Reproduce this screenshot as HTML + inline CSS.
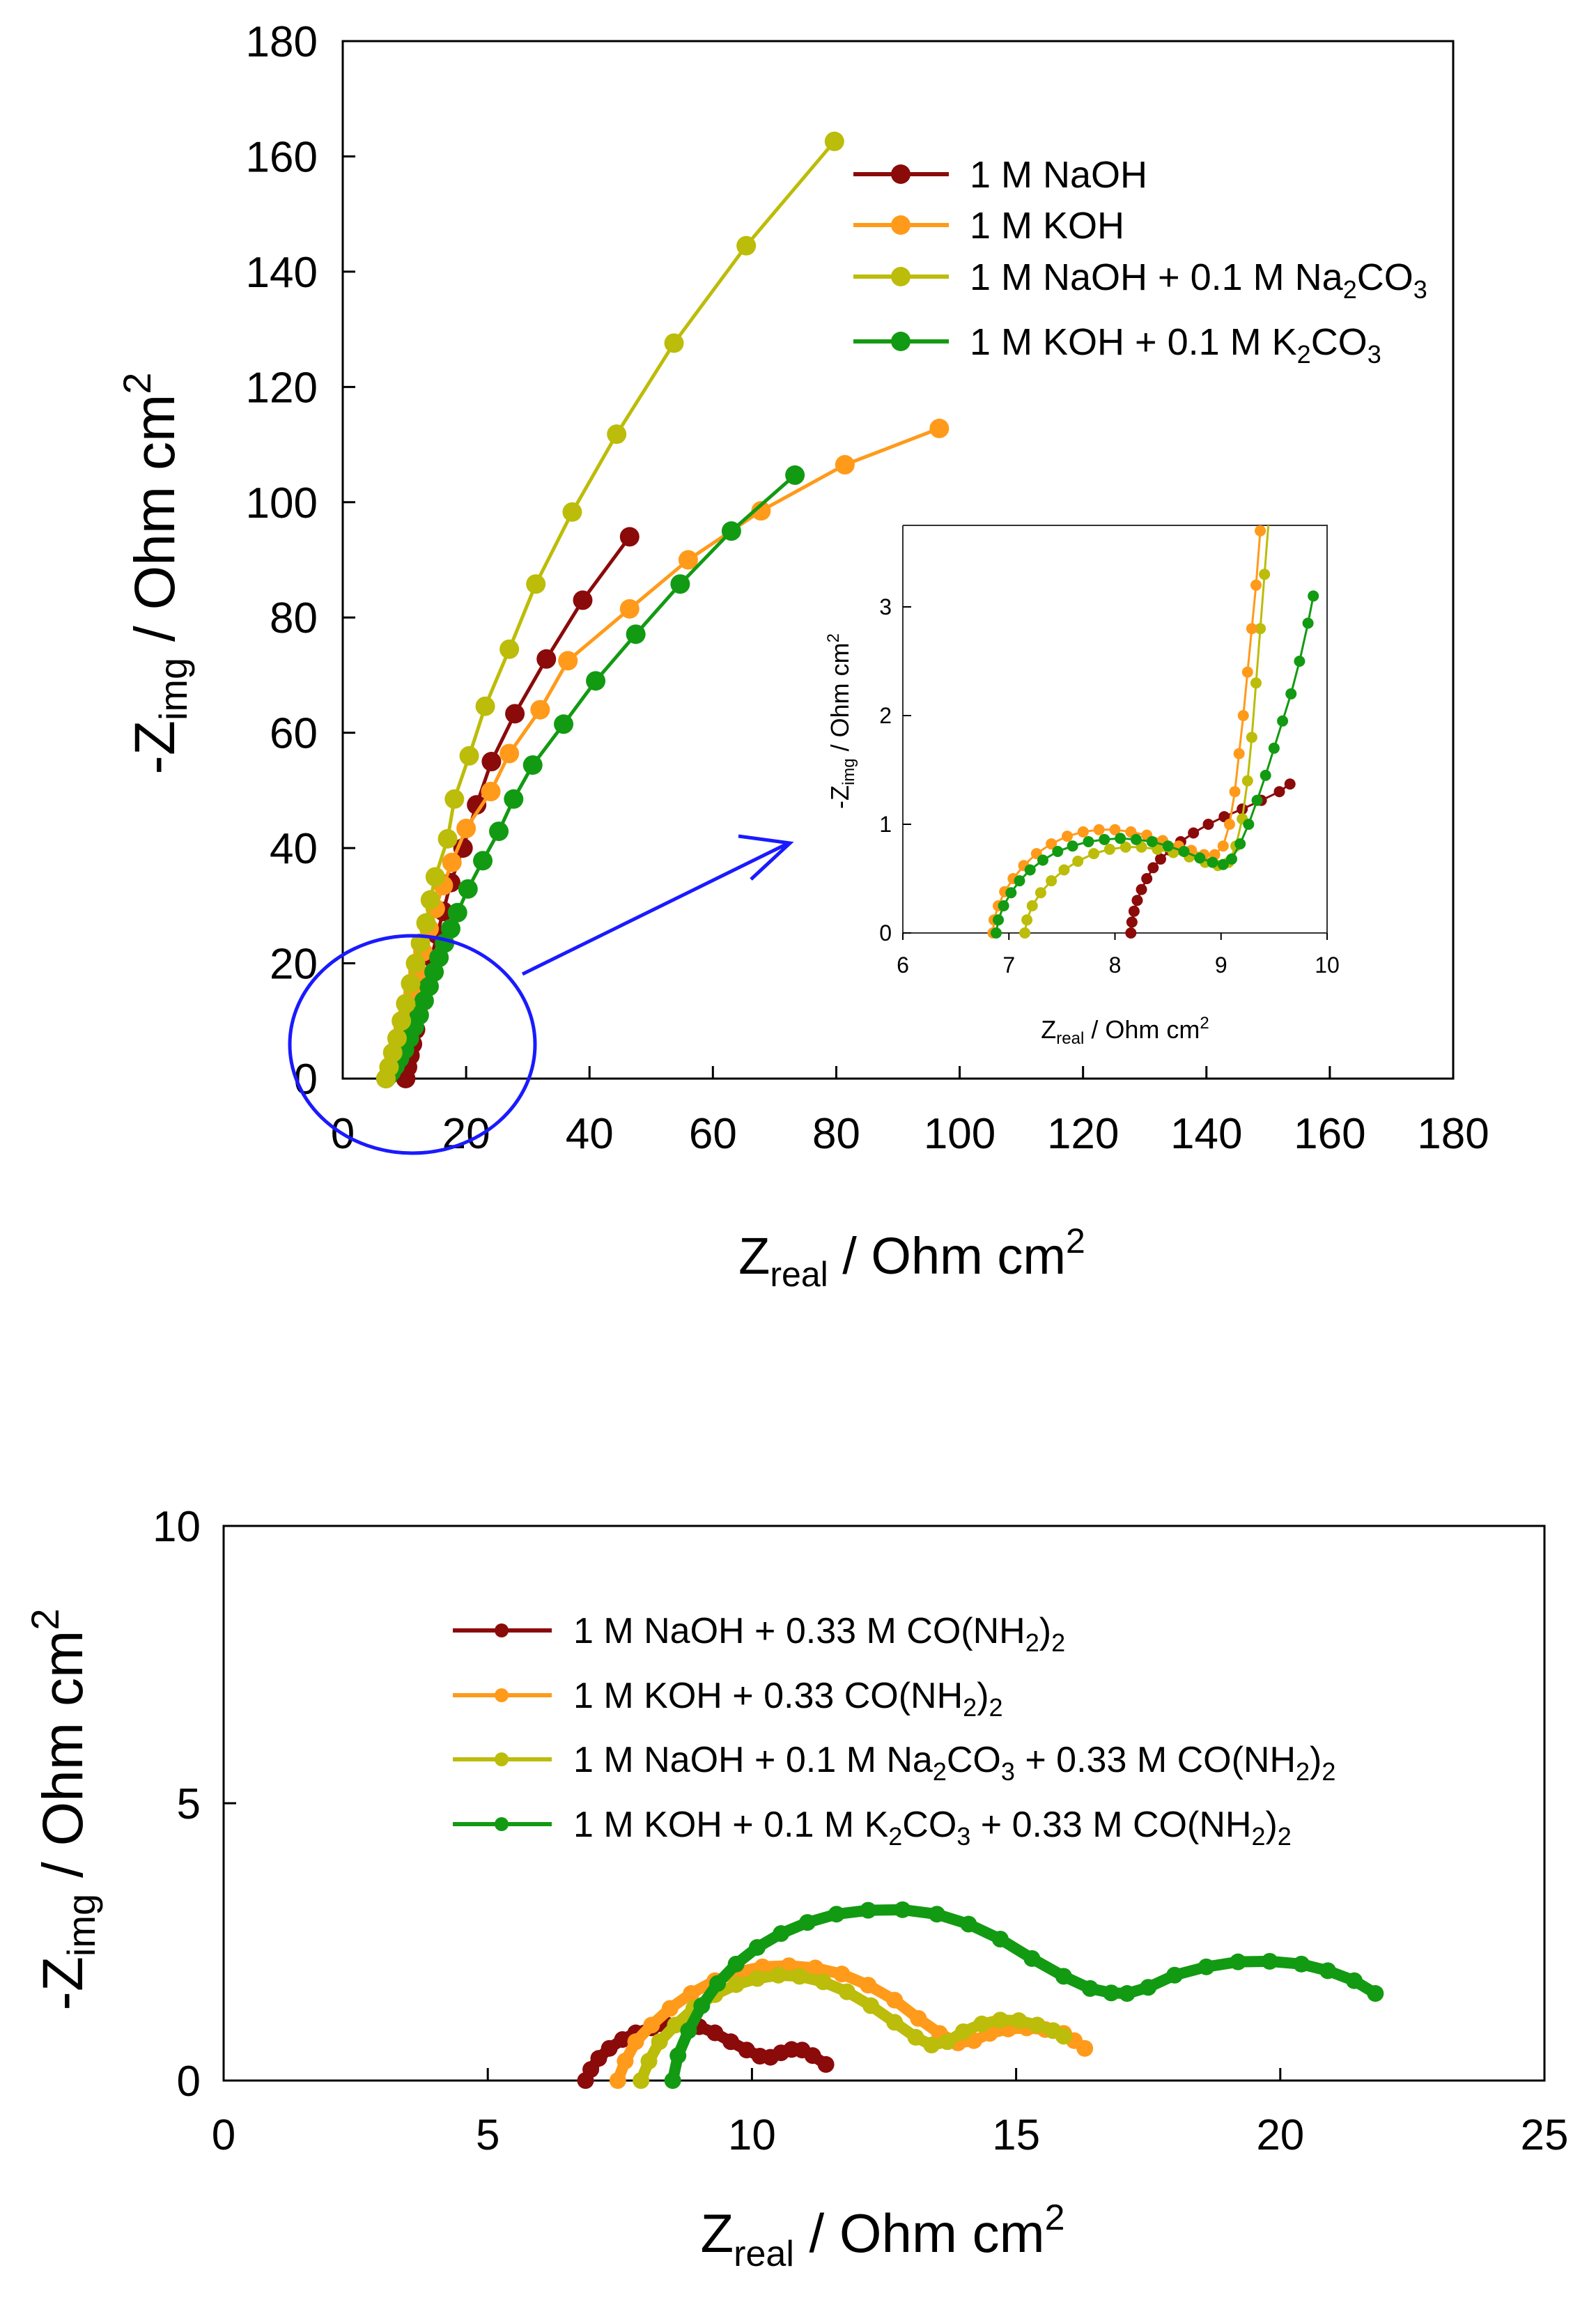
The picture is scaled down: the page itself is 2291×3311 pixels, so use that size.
<!DOCTYPE html>
<html><head><meta charset="utf-8"><style>
html,body{margin:0;padding:0;background:#fff}
svg{display:block}
text{font-family:"Liberation Sans",sans-serif;fill:#000}
</style></head><body>
<svg id="s" width="2291" height="3311" viewBox="0 0 2291 3311" xmlns="http://www.w3.org/2000/svg">
<rect x="0" y="0" width="2291" height="3311" fill="#fff"/>
<g id="top"></g>
<g id="inset"></g>
<g id="bot"></g>
</svg>
<script>
// ---------- TOP CHART DATA ----------
const topXTicks=[0,20,40,60,80,100,120,140,160,180];
const topYTicks=[0,20,40,60,80,100,120,140,160,180];
const naohX=[10.2,10.5,10.9,11.3,11.8,12.3,12.9,13.6,14.4,15.3,16.3,17.5,19.5,21.7,24.1,27.9,33,38.9,46.5];
const naohY=[0,2,4,6,8.5,11,14,17.5,21,25,29,34,40,47.5,55,63.3,72.8,83,94];
const kohX=[7,7.6,8.3,9,9.8,10.6,11.4,12.2,13,14,15,16.3,17.7,20,24,27,32,36.5,46.5,56,67.8,81.4,96.7];
const kohY=[0,1.5,3.5,6,9,12,15,18.5,22,26,29.5,33.5,37.5,43.4,49.8,56.4,64,72.5,81.5,90,98.5,106.5,112.8];
const naohCarbX=[7,7.5,8.1,8.8,9.5,10.2,11,11.8,12.6,13.5,14.2,15,17,18.1,20.5,23.1,27,31.3,37.2,44.4,53.7,65.4,79.7];
const naohCarbY=[0,2,4.5,7,10,13,16.5,20,23.5,27,31,35,41.6,48.5,56,64.6,74.5,85.8,98.3,111.8,127.6,144.5,162.6];
const kohCarbX=[7,7.4,7.9,8.5,9.2,10,10.8,11.6,12.4,13.2,14,14.8,15.6,16.5,17.5,18.6,20.3,22.7,25.3,27.7,30.8,35.8,41,47.5,54.7,63,73.3];
const kohCarbY=[0,0.5,1.2,2.2,3.5,5,7,9,11,13.5,16,18.5,21,23.5,26,28.8,32.9,37.8,42.9,48.5,54.4,61.5,69,77.1,85.8,95,104.7];
// ---------- INSET DATA ----------
const insXTicks=[6,7,8,9,10];
const insYTicks=[0,1,2,3];
const insKohX=[6.85,6.86,6.9,6.96,7.04,7.14,7.26,7.4,7.55,7.7,7.85,8.0,8.15,8.3,8.45,8.6,8.72,8.84,8.94,9.02,9.08,9.13,9.17,9.21,9.25,9.29,9.33,9.37];
const insKohY=[0,0.12,0.25,0.38,0.5,0.62,0.73,0.82,0.89,0.93,0.95,0.95,0.93,0.9,0.85,0.8,0.76,0.72,0.72,0.8,1.0,1.3,1.65,2.0,2.4,2.8,3.2,3.7];
const insKohCarbX=[6.88,6.9,6.95,7.02,7.1,7.2,7.32,7.46,7.6,7.75,7.9,8.05,8.2,8.35,8.5,8.65,8.8,8.92,9.02,9.1,9.18,9.26,9.34,9.42,9.5,9.58,9.66,9.74,9.82,9.87];
const insKohCarbY=[0,0.12,0.25,0.37,0.48,0.58,0.67,0.75,0.8,0.84,0.86,0.87,0.86,0.84,0.8,0.75,0.69,0.65,0.63,0.68,0.82,1.0,1.22,1.45,1.7,1.95,2.2,2.5,2.85,3.1];
const insNaohCarbX=[7.15,7.17,7.22,7.3,7.4,7.52,7.65,7.8,7.95,8.1,8.25,8.4,8.55,8.7,8.85,8.97,9.07,9.14,9.2,9.25,9.29,9.33,9.37,9.41,9.45];
const insNaohCarbY=[0,0.12,0.25,0.37,0.48,0.58,0.66,0.73,0.77,0.79,0.79,0.77,0.74,0.7,0.65,0.62,0.65,0.8,1.05,1.4,1.8,2.3,2.8,3.3,3.8];
const insNaohX=[8.15,8.16,8.18,8.21,8.25,8.3,8.36,8.43,8.52,8.62,8.74,8.88,9.03,9.2,9.38,9.55,9.65];
const insNaohY=[0,0.1,0.2,0.3,0.4,0.5,0.6,0.68,0.76,0.84,0.92,1.0,1.07,1.14,1.22,1.3,1.37];
// ---------- BOTTOM CHART DATA ----------
const botXTicks=[0,5,10,15,20,25];
const botYTicks=[0,5,10];
const bNaohX=[6.85,6.95,7.1,7.3,7.55,7.8,8.1,8.4,8.7,9.0,9.3,9.6,9.9,10.15,10.35,10.55,10.75,10.95,11.15,11.4];
const bNaohY=[0,0.2,0.4,0.58,0.74,0.86,0.95,1.0,1.02,0.97,0.86,0.7,0.55,0.44,0.42,0.5,0.56,0.55,0.45,0.29];
const bKohX=[7.46,7.6,7.8,8.1,8.45,8.85,9.3,9.75,10.2,10.7,11.2,11.7,12.2,12.7,13.15,13.55,13.9,14.2,14.5,14.85,15.2,15.55,15.9,16.1,16.3];
const bKohY=[0,0.35,0.7,1.0,1.3,1.57,1.8,1.96,2.05,2.07,2.03,1.92,1.72,1.45,1.12,0.85,0.68,0.72,0.85,0.93,0.95,0.92,0.85,0.72,0.58];
const bNaohCarbX=[7.9,8.05,8.25,8.55,8.9,9.3,9.7,10.1,10.5,10.9,11.35,11.8,12.25,12.7,13.1,13.4,13.7,14.0,14.35,14.7,15.05,15.4,15.7,15.9];
const bNaohCarbY=[0,0.35,0.7,1.0,1.3,1.55,1.73,1.84,1.9,1.88,1.78,1.6,1.35,1.05,0.78,0.64,0.7,0.88,1.02,1.09,1.08,1.0,0.9,0.8];
const bKohCarbX=[8.5,8.6,8.8,9.05,9.35,9.7,10.1,10.55,11.05,11.6,12.2,12.85,13.5,14.1,14.7,15.3,15.9,16.4,16.8,17.1,17.5,18.0,18.6,19.2,19.8,20.4,20.9,21.4,21.8];
const bKohCarbY=[0,0.45,0.9,1.35,1.75,2.1,2.4,2.65,2.85,3.0,3.07,3.08,3.0,2.82,2.55,2.2,1.88,1.66,1.58,1.57,1.68,1.9,2.05,2.14,2.15,2.1,1.98,1.8,1.57];

const C_RED="#8b0a0a",C_OR="#ff9a1a",C_OL="#bcbc0a",C_GR="#129a12";
const NS="http://www.w3.org/2000/svg";
function mk(parent,tag,attrs,txt){const e=document.createElementNS(NS,tag);for(const k in attrs)e.setAttribute(k,attrs[k]);if(txt!==undefined)e.textContent=txt;parent.appendChild(e);return e;}
function series(g,xs,ys,sx,sy,color,lw,r,name){
  const s=mk(g,'g',{});
  
  
  const pts=xs.map((x,i)=>sx(x)+','+sy(ys[i])).join(' ');
  mk(s,'polyline',{points:pts,fill:'none',stroke:color,'stroke-width':lw,'stroke-linejoin':'round','stroke-linecap':'round'});
  xs.forEach((x,i)=>{const c=mk(s,'circle',{cx:sx(x),cy:sy(ys[i]),r:r,fill:color});
    
    });
}
// ---------- TOP ----------
(function(){
const g=document.getElementById('top');
const L=492,R=2086,T=59,B=1548;
const sx=v=>L+(v-0)/180*(R-L), sy=v=>B-(v-0)/180*(B-T);
mk(g,'rect',{x:L,y:T,width:R-L,height:B-T,fill:'none',stroke:'#000','stroke-width':3});
topXTicks.forEach(t=>{mk(g,'line',{x1:sx(t),x2:sx(t),y1:B,y2:B-18,stroke:'#000','stroke-width':3});
  const e=mk(g,'text',{x:sx(t),y:1648,'font-size':62,'text-anchor':'middle'},t);
  });
topYTicks.forEach(t=>{mk(g,'line',{x1:L,x2:L+18,y1:sy(t),y2:sy(t),stroke:'#000','stroke-width':3});
  const e=mk(g,'text',{x:456,y:sy(t)+22,'font-size':62,'text-anchor':'end'},t);
  });
const yt=mk(g,'text',{transform:'translate(250,823) rotate(-90)','font-size':82,'text-anchor':'middle'});
yt.innerHTML='-Z<tspan font-size="56" dy="18">img</tspan><tspan dy="-18"> / Ohm cm</tspan><tspan font-size="56" dy="-34">2</tspan>';

const xt=mk(g,'text',{x:1309,y:1828,'font-size':74,'text-anchor':'middle'});
xt.innerHTML='Z<tspan font-size="50" dy="18">real</tspan><tspan dy="-18"> / Ohm cm</tspan><tspan font-size="50" dy="-30">2</tspan>';

series(g,naohX,naohY,sx,sy,C_RED,5,14,'series-naoh');
series(g,kohX,kohY,sx,sy,C_OR,5,14,'series-koh');
series(g,kohCarbX,kohCarbY,sx,sy,C_GR,5,14,'series-koh-k2co3');
series(g,naohCarbX,naohCarbY,sx,sy,C_OL,5,14,'series-naoh-na2co3');
const leg=[[C_RED,'1 M NaOH'],[C_OR,'1 M KOH'],[C_OL,'1 M NaOH + 0.1 M Na<tspan font-size="36" dy="12">2</tspan><tspan dy="-12">CO</tspan><tspan font-size="36" dy="12">3</tspan>'],[C_GR,'1 M KOH + 0.1 M K<tspan font-size="36" dy="12">2</tspan><tspan dy="-12">CO</tspan><tspan font-size="36" dy="12">3</tspan>']];
const ly=[250,323,397,490];
leg.forEach((l,i)=>{const lg=mk(g,'g',{});
  
  mk(lg,'line',{x1:1225,x2:1362,y1:ly[i],y2:ly[i],stroke:l[0],'stroke-width':6});
  mk(lg,'circle',{cx:1293,cy:ly[i],r:14,fill:l[0]});
  const t=mk(lg,'text',{x:1392,y:ly[i]+19,'font-size':54});t.innerHTML=l[1];});
const ann=mk(g,'g',{});

mk(ann,'ellipse',{cx:592,cy:1499,rx:176,ry:156,fill:'none',stroke:'#1a1aff','stroke-width':5});
mk(ann,'line',{x1:750,y1:1398,x2:1132,y2:1210,stroke:'#1a1aff','stroke-width':5});
mk(ann,'polyline',{points:'1060,1200 1134,1210 1078,1262',fill:'none',stroke:'#1a1aff','stroke-width':5});
})();
// ---------- INSET ----------
(function(){
const g=document.getElementById('inset');
const L=1296,R=1905,T=754,B=1339;
const sx=v=>L+(v-6)/4*(R-L), sy=v=>B-v*156;
mk(g,'rect',{x:L,y:T,width:R-L,height:B-T,fill:'#fff',stroke:'none'});
mk(g,'polyline',{points:`${L},${T} ${R},${T} ${R},${B} ${L},${B} ${L},${T}`,fill:'none',stroke:'#333','stroke-width':2});
insXTicks.forEach(t=>{mk(g,'line',{x1:sx(t),x2:sx(t),y1:B,y2:B+10,stroke:'#000','stroke-width':2});
  const e=mk(g,'text',{x:sx(t),y:1396,'font-size':32,'text-anchor':'middle'},t);
  });
insYTicks.forEach(t=>{mk(g,'line',{x1:L,x2:L+12,y1:sy(t),y2:sy(t),stroke:'#000','stroke-width':2});
  const e=mk(g,'text',{x:1280,y:sy(t)+11,'font-size':32,'text-anchor':'end'},t);
  });
const yt=mk(g,'text',{transform:'translate(1218,1035) rotate(-90)','font-size':36,'text-anchor':'middle'});
yt.innerHTML='-Z<tspan font-size="24" dy="8">img</tspan><tspan dy="-8"> / Ohm cm</tspan><tspan font-size="24" dy="-14">2</tspan>';

const xt=mk(g,'text',{x:1615,y:1490,'font-size':36,'text-anchor':'middle'});
xt.innerHTML='Z<tspan font-size="24" dy="8">real</tspan><tspan dy="-8"> / Ohm cm</tspan><tspan font-size="24" dy="-14">2</tspan>';

const cl=mk(g,'clipPath',{id:'ic'});mk(cl,'rect',{x:L,y:T,width:R-L,height:B-T+10});
const cg=mk(g,'g',{'clip-path':'url(#ic)'});
series(cg,insNaohX,insNaohY,sx,sy,C_RED,3,8,'inset-series-naoh');
series(cg,insNaohCarbX,insNaohCarbY,sx,sy,C_OL,3,8,'inset-series-naoh-na2co3');
series(cg,insKohX,insKohY,sx,sy,C_OR,3,8,'inset-series-koh');
series(cg,insKohCarbX,insKohCarbY,sx,sy,C_GR,3,8,'inset-series-koh-k2co3');
})();
// ---------- BOTTOM ----------
(function(){
const g=document.getElementById('bot');
const L=321,R=2217,T=2190,B=2986;
const sx=v=>L+v/25*(R-L), sy=v=>B-v/10*(B-T);
mk(g,'rect',{x:L,y:T,width:R-L,height:B-T,fill:'#fff',stroke:'#000','stroke-width':3});
botXTicks.forEach(t=>{mk(g,'line',{x1:sx(t),x2:sx(t),y1:B,y2:B-18,stroke:'#000','stroke-width':3});
  const e=mk(g,'text',{x:sx(t),y:3085,'font-size':62,'text-anchor':'middle'},t);
  });
botYTicks.forEach(t=>{mk(g,'line',{x1:L,x2:L+18,y1:sy(t),y2:sy(t),stroke:'#000','stroke-width':3});
  const e=mk(g,'text',{x:288,y:sy(t)+22,'font-size':62,'text-anchor':'end'},t);
  });
const yt=mk(g,'text',{transform:'translate(118,2597) rotate(-90)','font-size':82,'text-anchor':'middle'});
yt.innerHTML='-Z<tspan font-size="56" dy="18">img</tspan><tspan dy="-18"> / Ohm cm</tspan><tspan font-size="56" dy="-34">2</tspan>';

const xt=mk(g,'text',{x:1267,y:3232,'font-size':78,'text-anchor':'middle'});
xt.innerHTML='Z<tspan font-size="52" dy="20">real</tspan><tspan dy="-20"> / Ohm cm</tspan><tspan font-size="52" dy="-32">2</tspan>';

series(g,bNaohX,bNaohY,sx,sy,C_RED,16,12,'bottom-series-naoh-urea');
series(g,bKohX,bKohY,sx,sy,C_OR,16,12,'bottom-series-koh-urea');
series(g,bNaohCarbX,bNaohCarbY,sx,sy,C_OL,16,12,'bottom-series-naoh-na2co3-urea');
series(g,bKohCarbX,bKohCarbY,sx,sy,C_GR,16,12,'bottom-series-koh-k2co3-urea');
const s='font-size="36"';
const leg=[[C_RED,`1 M NaOH + 0.33 M CO(NH<tspan ${s} dy="12">2</tspan><tspan dy="-12">)</tspan><tspan ${s} dy="12">2</tspan>`],
[C_OR,`1 M KOH + 0.33 CO(NH<tspan ${s} dy="12">2</tspan><tspan dy="-12">)</tspan><tspan ${s} dy="12">2</tspan>`],
[C_OL,`1 M NaOH + 0.1 M Na<tspan ${s} dy="12">2</tspan><tspan dy="-12">CO</tspan><tspan ${s} dy="12">3</tspan><tspan dy="-12"> + 0.33 M CO(NH</tspan><tspan ${s} dy="12">2</tspan><tspan dy="-12">)</tspan><tspan ${s} dy="12">2</tspan>`],
[C_GR,`1 M KOH + 0.1 M K<tspan ${s} dy="12">2</tspan><tspan dy="-12">CO</tspan><tspan ${s} dy="12">3</tspan><tspan dy="-12"> + 0.33 M CO(NH</tspan><tspan ${s} dy="12">2</tspan><tspan dy="-12">)</tspan><tspan ${s} dy="12">2</tspan>`]];
const ly=[2340,2433,2525,2618];
leg.forEach((l,i)=>{const lg=mk(g,'g',{});
  
  mk(lg,'line',{x1:650,x2:792,y1:ly[i],y2:ly[i],stroke:l[0],'stroke-width':6});
  mk(lg,'circle',{cx:720,cy:ly[i],r:10,fill:l[0]});
  const t=mk(lg,'text',{x:823,y:ly[i]+18,'font-size':52});t.innerHTML=l[1];});
})();
</script>
</body></html>
